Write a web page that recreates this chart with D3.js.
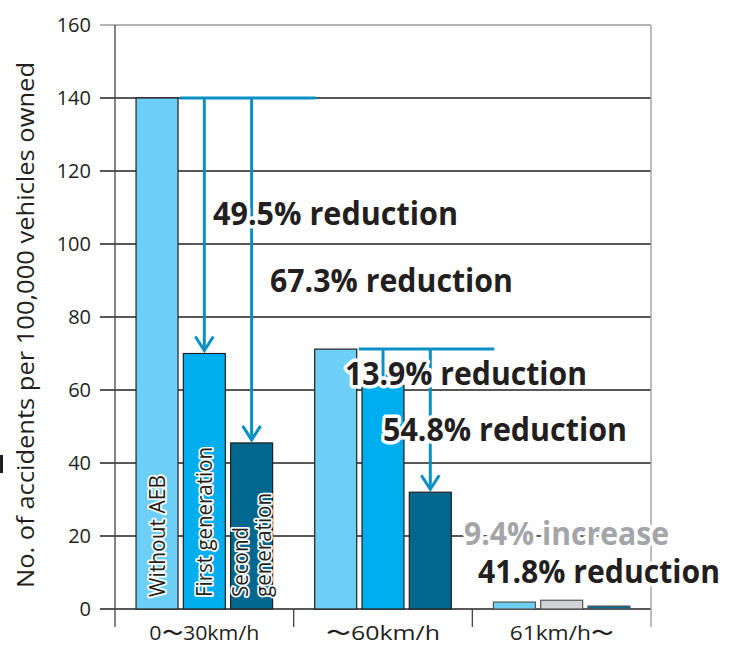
<!DOCTYPE html>
<html>
<head>
<meta charset="utf-8">
<script src="https://cdn.jsdelivr.net/npm/d3@7"></script>
<style>
  html, body { margin: 0; padding: 0; background: #fff; }
  svg { display: block; }
</style>
</head>
<body>
<svg id="chart" width="732" height="646"></svg>
<script>
// Accident rates per 100,000 vehicles owned, by speed band and AEB generation
const categories = ["0〜30km/h", "〜60km/h", "61km/h〜"];
const series = ["Without AEB", "First generation", "Second generation"];
const withoutAEB = [140, 71.2, 1.9];
const firstGeneration = [70, 61.3, 2.4];
const secondGeneration = [45.5, 32, 0.8];
const yTicks = [0, 20, 40, 60, 80, 100, 120, 140, 160];

// Change labels for each speed band (first generation, second generation)
const changeLabels = [
  ["49.5% reduction", "67.3% reduction"],
  ["13.9% reduction", "54.8% reduction"],
  ["9.4% increase", "41.8% reduction"]
];

const seriesColors = ["#6dcff6", "#00aeef", "#00688f"];
const increaseColor = "#d1d3d4";
const arrowColor = "#0b8fc5";
const ink = "#231f20";
const font = "'Open Sans', 'Noto Sans', sans-serif";

const svg = d3.select("#chart");

const plot = { left: 115, right: 651, top: 25, bottom: 609 };

const y = d3.scaleLinear().domain([0, 160]).range([plot.bottom, plot.top]);
const x0 = d3.scaleBand().domain(categories).range([plot.left, plot.right]);
const x1 = d3.scaleBand().domain(series).range([0, x0.bandwidth()])
  .paddingInner(0.112).paddingOuter(0.445);

const rows = categories.map((c, i) => ({
  category: c,
  values: [withoutAEB[i], firstGeneration[i], secondGeneration[i]]
}));

// Horizontal gridlines with tick marks on the left
svg.append("g").selectAll("line").data(yTicks).join("line")
  .attr("x1", plot.left - 15).attr("x2", plot.right)
  .attr("y1", d => y(d)).attr("y2", d => y(d))
  .attr("stroke", d => d === 160 ? "#9a9a9a" : ink)
  .attr("stroke-width", 1.3);

// Y axis tick labels
svg.append("g").selectAll("text").data(yTicks).join("text")
  .attr("x", plot.left - 24).attr("y", d => y(d)).attr("dy", "0.36em")
  .attr("text-anchor", "end")
  .attr("font-family", font).attr("font-size", 20).attr("fill", ink)
  .text(d => d);

// Axis frame: left axis, right border, category separators
svg.append("line")
  .attr("x1", plot.left).attr("x2", plot.left)
  .attr("y1", plot.top).attr("y2", plot.bottom + 18)
  .attr("stroke", "#444").attr("stroke-width", 1.3);
svg.append("line")
  .attr("x1", plot.right).attr("x2", plot.right)
  .attr("y1", plot.top).attr("y2", plot.bottom + 18)
  .attr("stroke", "#9a9a9a").attr("stroke-width", 1.3);
svg.append("g").selectAll("line").data(categories.slice(1)).join("line")
  .attr("x1", d => x0(d)).attr("x2", d => x0(d))
  .attr("y1", plot.bottom).attr("y2", plot.bottom + 18)
  .attr("stroke", "#444").attr("stroke-width", 1.3);

// Category labels
const catWidths = [110, 114, 104];
svg.append("g").selectAll("text").data(categories).join("text")
  .attr("x", d => x0(d) + x0.bandwidth() / 2).attr("y", plot.bottom + 31)
  .attr("text-anchor", "middle")
  .attr("font-family", font).attr("font-size", 20).attr("fill", ink)
  .attr("textLength", (d, i) => catWidths[i]).attr("lengthAdjust", "spacingAndGlyphs")
  .text(d => d);

// Bars
const groups = svg.append("g").selectAll("g").data(rows).join("g")
  .attr("transform", d => `translate(${x0(d.category)},0)`);

groups.selectAll("rect")
  .data((d, gi) => d.values.map((v, si) => ({ v, si, gi })))
  .join("rect")
  .attr("x", d => x1(series[d.si]))
  .attr("width", x1.bandwidth())
  .attr("y", d => y(d.v))
  .attr("height", d => y(0) - y(d.v))
  .attr("fill", d => (d.gi === 2 && d.si === 1) ? increaseColor : seriesColors[d.si])
  .attr("stroke", d => d.gi === 2 ? "#555" : ink)
  .attr("stroke-width", 1.2);

// Series names written vertically inside the first group's bars
const nameLayer = svg.append("g")
  .attr("font-family", font).attr("font-size", 21).attr("fill", ink)
  .attr("stroke", "#fff").attr("stroke-width", 3.5)
  .attr("stroke-linejoin", "round").attr("paint-order", "stroke");
const barNames = [["Without AEB"], ["First generation"], ["Second", "generation"]];
const nameLengths = [[122], [150], [70, 104]];
barNames.forEach((lines, si) => {
  const cx = x0(categories[0]) + x1(series[si]) + x1.bandwidth() / 2;
  lines.forEach((line, li) => {
    const off = lines.length === 1 ? 0 : (li === 0 ? -11 : 12);
    nameLayer.append("text")
      .attr("transform", `translate(${cx + off},${plot.bottom - 12}) rotate(-90)`)
      .attr("dy", "0.36em")
      .attr("textLength", nameLengths[si][li])
      .attr("lengthAdjust", "spacingAndGlyphs")
      .text(line);
  });
});

// Reduction arrows from the "Without AEB" level down to each AEB bar
const arrows = svg.append("g")
  .attr("stroke", arrowColor).attr("stroke-width", 3).attr("fill", "none");
[0, 1].forEach(gi => {
  const base = rows[gi].values[0];
  const gx = x0(categories[gi]);
  const yBase = y(base);
  arrows.append("line")
    .attr("x1", gx + x1(series[0]) + x1.bandwidth() + 2)
    .attr("x2", gx + x1(series[2]) + x1.bandwidth() + 43)
    .attr("y1", yBase).attr("y2", yBase);
  [1, 2].forEach(si => {
    const cx = gx + x1(series[si]) + x1.bandwidth() / 2;
    const tip = y(rows[gi].values[si]) - 3;
    arrows.append("line")
      .attr("x1", cx).attr("x2", cx)
      .attr("y1", yBase).attr("y2", tip);
    arrows.append("path")
      .attr("d", `M${cx - 9},${tip - 14} L${cx},${tip} L${cx + 9},${tip - 14}`);
  });
});

// Percentage labels
const labelLayout = [
  [{ x: 213, y: 225, w: 245 }, { x: 270, y: 292, w: 243 }],
  [{ x: 345, y: 385, w: 242 }, { x: 383, y: 441, w: 244 }],
  [{ x: 464, y: 545, w: 205 }, { x: 478, y: 583, w: 242 }]
];
const labelLayer = svg.append("g")
  .attr("font-family", font).attr("font-weight", 700).attr("font-size", 32)
  .attr("stroke", "#fff").attr("stroke-width", 7)
  .attr("stroke-linejoin", "round").attr("paint-order", "stroke");
changeLabels.forEach((pair, gi) => {
  pair.forEach((txt, k) => {
    const pos = labelLayout[gi][k];
    labelLayer.append("text")
      .attr("x", pos.x).attr("y", pos.y)
      .attr("textLength", pos.w).attr("lengthAdjust", "spacingAndGlyphs")
      .attr("fill", txt.includes("increase") ? "#a3a5a8" : ink)
      .text(txt);
  });
});

// Y axis title
svg.append("text")
  .attr("transform", `translate(34,${(plot.top + plot.bottom) / 2 + 8}) rotate(-90)`)
  .attr("text-anchor", "middle")
  .attr("font-family", font).attr("font-size", 24).attr("fill", ink)
  .attr("textLength", 526).attr("lengthAdjust", "spacingAndGlyphs")
  .text("No. of accidents per 100,000 vehicles owned");

// Small mark at the left edge
svg.append("rect").attr("x", 0).attr("y", 455).attr("width", 3).attr("height", 18)
  .attr("fill", ink);
</script>
</body>
</html>
